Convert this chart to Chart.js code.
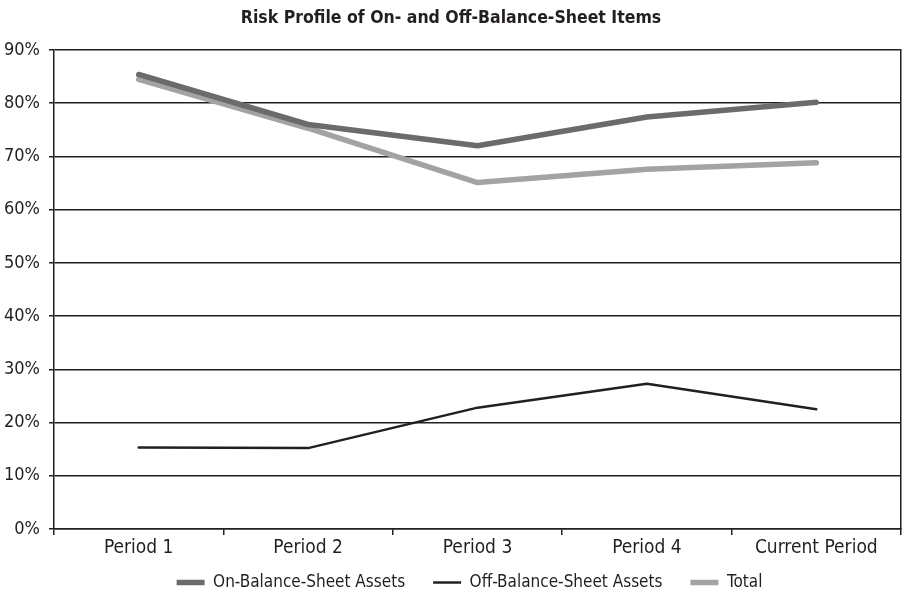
<!DOCTYPE html>
<html>
<head>
<meta charset="utf-8">
<script src="https://cdn.jsdelivr.net/npm/chart.js@4/dist/chart.umd.min.js"></script>
<style>
  html, body { margin: 0; padding: 0; background: #ffffff; }
  #wrap { width: 902px; height: 596px; }
</style>
</head>
<body>
<div id="wrap"><canvas id="chart" width="902" height="596"></canvas></div>
<script>
const categories = ['Period 1', 'Period 2', 'Period 3', 'Period 4', 'Current Period'];
const onBalance = [85.4, 76.0, 72.0, 77.4, 80.2];
const offBalance = [15.3, 15.2, 22.8, 27.3, 22.5];
const total = [84.5, 75.3, 65.1, 67.6, 68.8];
const yTicks = [0, 10, 20, 30, 40, 50, 60, 70, 80, 90];

const FONT = "'Liberation Sans Narrow', 'DejaVu Sans Condensed', 'Roboto Condensed', sans-serif";
const INK = '#231f20';

// The legend is laid out with wide horizontal spacing; give the category
// labels room below the axis again once the boxes have been placed, and
// centre the legend row under the plot area rather than the whole canvas.
const boxTweaks = {
  id: 'boxTweaks',
  afterLayout(chart) {
    const s = chart.scales.x;
    s.bottom = s.top + 40;
    s.height = 40;
    const lg = chart.legend;
    if (lg) {
      const shift = chart.chartArea.left - lg.left - (lg.right - chart.chartArea.right);
      lg.left += Math.max(0, shift - 16);
    }
  }
};

new Chart(document.getElementById('chart'), {
  type: 'line',
  data: {
    labels: categories,
    datasets: [
      { label: 'On-Balance-Sheet Assets', data: onBalance, borderColor: '#6b6b6d', backgroundColor: '#6b6b6d',
        borderWidth: 5.5, borderCapStyle: 'round', borderJoinStyle: 'round', pointRadius: 0, tension: 0 },
      { label: 'Off-Balance-Sheet Assets', data: offBalance, borderColor: INK, backgroundColor: INK,
        borderWidth: 2.5, borderCapStyle: 'round', borderJoinStyle: 'round', pointRadius: 0, tension: 0 },
      { label: 'Total', data: total, borderColor: '#a3a3a5', backgroundColor: '#a3a3a5',
        borderWidth: 5.5, borderCapStyle: 'round', borderJoinStyle: 'round', pointRadius: 0, tension: 0 }
    ]
  },
  plugins: [boxTweaks],
  options: {
    responsive: false,
    animation: false,
    layout: { padding: { left: 0, right: 0, top: 0, bottom: 0 } },
    plugins: {
      title: {
        display: true,
        text: 'Risk Profile of On- and Off-Balance-Sheet Items',
        color: INK,
        font: { family: FONT, size: 17.5, weight: 'bold' },
        padding: { top: 8, bottom: 21 }
      },
      legend: {
        position: 'bottom',
        maxHeight: 50,
        labels: {
          color: INK,
          font: { family: FONT, size: 17 },
          usePointStyle: true,
          pointStyle: 'line',
          pointStyleWidth: 28,
          boxHeight: 16,
          padding: 28
        }
      },
      tooltip: { enabled: false }
    },
    scales: {
      x: {
        offset: true,
        grid: { display: true, drawOnChartArea: false, drawTicks: true, tickLength: 6, color: INK, offset: true, lineWidth: 1.5 },
        border: { display: true, color: INK, width: 1.5 },
        ticks: { color: INK, font: { family: FONT, size: 19 }, padding: 2 },
        afterFit: (s) => { s.height = 17; }
      },
      y: {
        min: 0, max: 90,
        afterBuildTicks: (s) => { s.ticks = yTicks.map(v => ({ value: v })); },
        grid: { color: INK, lineWidth: 1.5, tickLength: 5 },
        border: { display: true, color: INK, width: 1.5 },
        ticks: { color: INK, font: { family: FONT, size: 18 }, padding: 9, callback: (v) => v + '%' },
        afterFit: (s) => { s.width = 54; }
      },
      y2: {
        position: 'right',
        min: 0, max: 90,
        grid: { display: false },
        border: { display: true, color: INK, width: 1.5 },
        ticks: { display: false },
        afterFit: (s) => { s.width = 1; }
      }
    }
  }
});
</script>
</body>
</html>
